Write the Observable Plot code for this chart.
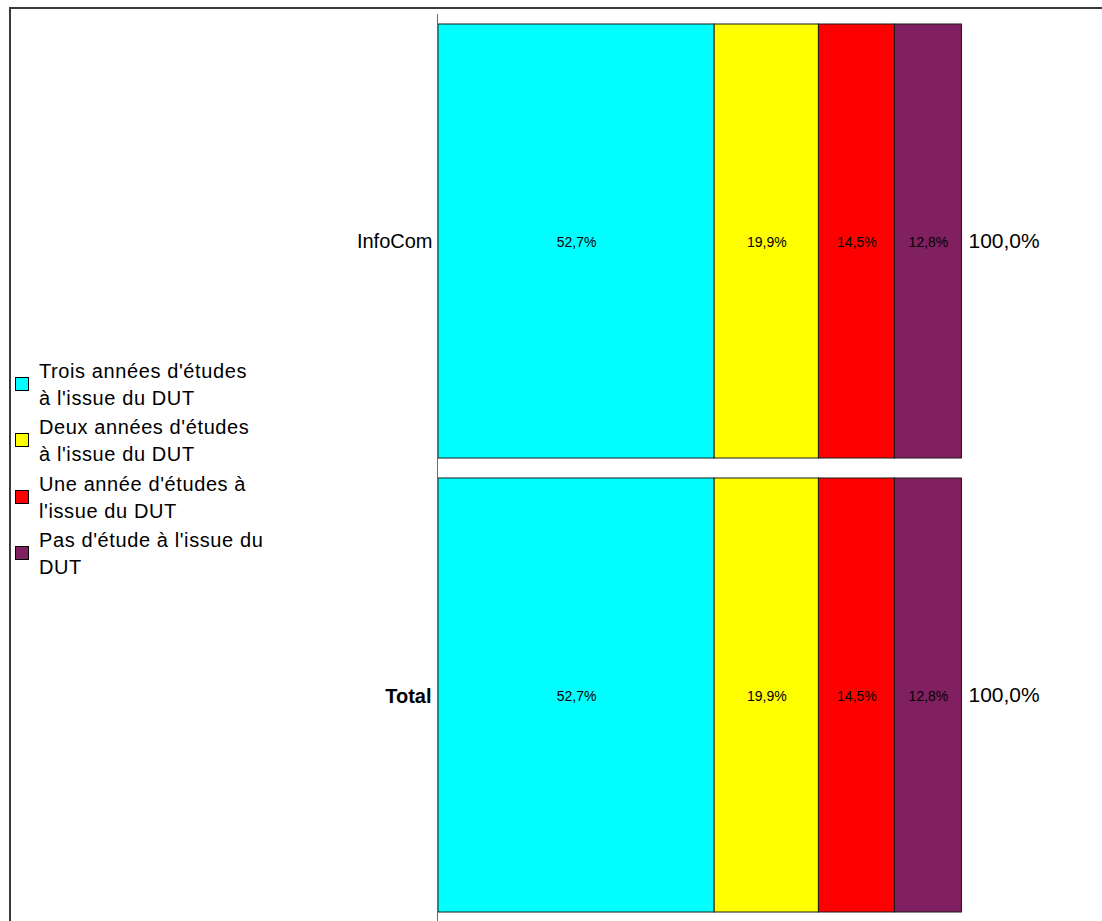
<!DOCTYPE html>
<html>
<head>
<meta charset="utf-8">
<script src="https://cdn.jsdelivr.net/npm/d3@7"></script>
<script src="https://cdn.jsdelivr.net/npm/@observablehq/plot@0.6"></script>
<style>
  html, body { margin: 0; padding: 0; background: #fff; }
  #wrap { position: relative; width: 1102px; height: 921px; overflow: hidden; font-family: "Liberation Sans", Arial, sans-serif; }
  #border { position: absolute; left: 9px; top: 7px; width: 1200px; height: 1000px; border-top: 2px solid #3a3a3a; border-left: 2px solid #3a3a3a; pointer-events: none; }
  .item { position: absolute; left: 39px; font-size: 20px; letter-spacing: 0.6px; line-height: 27px; color: #000; width: 260px; white-space: nowrap; }
  .sw { position: absolute; left: 15px; width: 12px; height: 12px; border: 1px solid #000; }
  #chart { position: absolute; left: 0; top: 0; }
</style>
</head>
<body>
<div id="wrap">
  <div id="chart"></div>
  <div id="border"></div>
  <div id="legend"></div>
</div>
<script>
const categories = ["InfoCom", "Total"];
const series = [
  "Trois années d'études à l'issue du DUT",
  "Deux années d'études à l'issue du DUT",
  "Une année d'études à l'issue du DUT",
  "Pas d'étude à l'issue du DUT"
];
const legendLines = [
  ["Trois années d'études", "à l'issue du DUT"],
  ["Deux années d'études", "à l'issue du DUT"],
  ["Une année d'études à", "l'issue du DUT"],
  ["Pas d'étude à l'issue du", "DUT"]
];
const colors = ["#00FFFF", "#FFFF00", "#FF0000", "#802060"];
const infoComValues = [52.7, 19.9, 14.5, 12.8];
const totalValues = [52.7, 19.9, 14.5, 12.8];
const rowTotals = [100.0, 100.0];

const data = [];
[infoComValues, totalValues].forEach((vals, ci) => {
  vals.forEach((v, si) => data.push({cat: categories[ci], series: series[si], value: v}));
});
const totalsData = categories.map((c, i) => ({cat: c, total: rowTotals[i]}));
const fmt = v => v.toFixed(1).replace(".", ",") + "%";

const plot = Plot.plot({
  width: 1102,
  height: 921,
  marginLeft: 438,
  marginRight: 140,
  marginTop: 24,
  marginBottom: 9,
  x: {domain: [0, 100], axis: null},
  y: {domain: categories, axis: null, paddingInner: 20 / 454, paddingOuter: 0},
  color: {domain: series, range: colors},
  style: {fontFamily: "'Liberation Sans', Arial, sans-serif", background: "transparent", color: "#000"},
  marks: [
    Plot.barX(data, Plot.stackX({x: "value", y: "cat", fill: "series", stroke: "#1a1a1a", strokeWidth: 1})),
    Plot.text(data, Plot.stackX({x: "value", y: "cat", text: d => fmt(d.value), fontSize: 14, fill: "#000", dy: 1})),
    Plot.text(totalsData, {x: "total", y: "cat", text: d => fmt(d.total), textAnchor: "start", dx: 6, fontSize: 21, fill: "#000"}),
    Plot.text([categories[0]], {x: () => 0, y: d => d, textAnchor: "end", dx: -6, fontSize: 20, fill: "#000", letterSpacing: 0.3}),
    Plot.text([categories[1]], {x: () => 0, y: d => d, textAnchor: "end", dx: -7, fontSize: 20, fontWeight: "bold", fill: "#000", dy: 1}),
    Plot.ruleX([0], {stroke: "#6a6a6a", strokeWidth: 1, dx: -1, insetTop: -10, insetBottom: -9})
  ]
});
document.getElementById("chart").appendChild(plot);

const legend = document.getElementById("legend");
legendLines.forEach((lines, i) => {
  const top = 358 + i * 56.3;
  const item = document.createElement("div");
  item.className = "item";
  item.style.top = top + "px";
  item.innerHTML = lines.map(l => `<div>${l}</div>`).join("");
  legend.appendChild(item);
  const sw = document.createElement("div");
  sw.className = "sw";
  sw.style.top = (top + 19) + "px";
  sw.style.background = colors[i];
  legend.appendChild(sw);
});
</script>
</body>
</html>
